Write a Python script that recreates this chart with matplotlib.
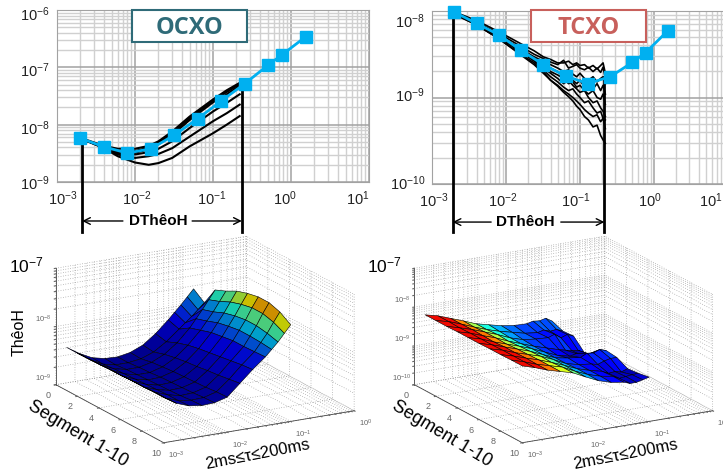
# OCXO / TCXO theo-H stability plots, with the segment surfaces below

import matplotlib
matplotlib.use('Agg')
import matplotlib.pyplot as plt
import numpy as np
from matplotlib.patches import Rectangle
from matplotlib.transforms import ScaledTranslation

FIG_W = 723
FIG_H = 473

plt.rcParams['font.family'] = ['Liberation Sans', 'DejaVu Sans']
plt.rcParams['mathtext.fontset'] = 'custom'
plt.rcParams['mathtext.rm'] = 'Liberation Sans'
plt.rcParams['mathtext.default'] = 'regular'

# blue reference curve, same taus in both top plots
tauBlue = [0.002, 0.004, 0.008, 0.016, 0.032, 0.064, 0.128, 0.256, 0.512, 0.768, 1.536]
ocxoBlue = [5.8e-9, 4.1e-9, 3.2e-9, 3.8e-9, 6.6e-9, 1.28e-8, 2.6e-8, 5.2e-8, 1.1e-7, 1.66e-7, 3.4e-7]
tcxoBlue = [9.7e-9, 7.2e-9, 5.3e-9, 3.5e-9, 2.4e-9, 1.77e-9, 1.45e-9, 1.74e-9, 2.55e-9, 3.3e-9, 5.9e-9]

# black segment curves, log10 of the deviation
ocxoTau = [0.002, 0.004, 0.006, 0.01, 0.015, 0.02, 0.03, 0.05, 0.1, 0.15, 0.22]
ocxoCurves = [
    [-8.24, -8.41, -8.55, -8.66, -8.70, -8.67, -8.58, -8.38, -8.15, -8.00, -7.85],
    [-8.24, -8.40, -8.52, -8.58, -8.55, -8.51, -8.41, -8.21, -7.94, -7.80, -7.65],
    [-8.24, -8.39, -8.50, -8.52, -8.48, -8.42, -8.29, -8.06, -7.77, -7.62, -7.47],
    [-8.24, -8.39, -8.49, -8.49, -8.43, -8.34, -8.18, -7.92, -7.61, -7.47, -7.32],
    [-8.24, -8.39, -8.46, -8.46, -8.40, -8.31, -8.15, -7.89, -7.58, -7.43, -7.29],
    [-8.23, -8.37, -8.42, -8.42, -8.37, -8.29, -8.12, -7.86, -7.56, -7.40, -7.27],
]
tcxoTau = [0.002, 0.004, 0.008, 0.016, 0.024, 0.032, 0.04, 0.05, 0.06, 0.07,
           0.08, 0.09, 0.1, 0.115, 0.13, 0.15, 0.17, 0.19, 0.205, 0.22]
tcxoCurves = [
    [-8.01, -8.11, -8.24, -8.38, -8.46, -8.53, -8.56, -8.60, -8.60, -8.58, -8.62, -8.60, -8.63, -8.62, -8.66, -8.63, -8.67, -8.63, -8.60, -8.72],
    [-8.02, -8.13, -8.26, -8.41, -8.50, -8.55, -8.59, -8.62, -8.57, -8.66, -8.64, -8.62, -8.66, -8.68, -8.65, -8.70, -8.66, -8.71, -8.65, -8.78],
    [-8.02, -8.14, -8.28, -8.44, -8.53, -8.58, -8.62, -8.66, -8.70, -8.68, -8.73, -8.76, -8.72, -8.78, -8.80, -8.76, -8.82, -8.78, -8.76, -8.84],
    [-8.02, -8.14, -8.28, -8.46, -8.55, -8.60, -8.66, -8.70, -8.76, -8.74, -8.80, -8.84, -8.80, -8.88, -8.84, -8.90, -8.84, -8.92, -8.86, -8.96],
    [-8.03, -8.15, -8.30, -8.45, -8.56, -8.62, -8.70, -8.74, -8.78, -8.84, -8.82, -8.88, -8.86, -8.92, -8.96, -8.92, -9.00, -9.02, -8.96, -9.08],
    [-8.03, -8.15, -8.29, -8.48, -8.57, -8.66, -8.72, -8.78, -8.84, -8.80, -8.86, -8.90, -8.94, -8.92, -9.00, -9.06, -9.04, -9.12, -9.16, -9.22],
    [-8.03, -8.16, -8.31, -8.47, -8.58, -8.68, -8.76, -8.82, -8.88, -8.92, -8.90, -8.96, -9.00, -9.06, -9.04, -9.12, -9.18, -9.16, -9.24, -9.26],
    [-8.04, -8.16, -8.32, -8.50, -8.60, -8.70, -8.80, -8.86, -8.92, -8.96, -9.00, -9.04, -9.08, -9.14, -9.18, -9.22, -9.20, -9.28, -9.24, -9.36],
    [-8.02, -8.16, -8.32, -8.51, -8.62, -8.72, -8.80, -8.87, -8.94, -8.99, -9.04, -9.10, -9.14, -9.22, -9.26, -9.34, -9.32, -9.44, -9.49, -9.53],
]

# surfaces: one row per segment, one column per log10(tau), log10(theoH)
surfTau = [-3.0, -2.8, -2.6, -2.4, -2.2, -2.0, -1.8, -1.6, -1.4, -1.3, -1.2, -1.1, -1.0]
surfSeg = [1, 2, 3, 4, 5, 6, 7, 8, 9, 10]
ocxoSurf = [
    [-8.26, -8.40, -8.51, -8.56, -8.57, -8.53, -8.44, -8.28, -8.08, -7.97, -7.86, -7.74, -7.62],
    [-8.26, -8.41, -8.52, -8.57, -8.57, -8.54, -8.46, -8.32, -8.14, -8.05, -7.96, -7.86, -7.76],
    [-8.25, -8.40, -8.50, -8.55, -8.55, -8.50, -8.40, -8.24, -8.02, -7.88, -7.74, -7.59, -7.44],
    [-8.25, -8.39, -8.49, -8.54, -8.54, -8.48, -8.36, -8.18, -7.96, -7.82, -7.68, -7.52, -7.36],
    [-8.24, -8.39, -8.48, -8.53, -8.52, -8.46, -8.33, -8.14, -7.90, -7.75, -7.60, -7.43, -7.26],
    [-8.24, -8.38, -8.47, -8.52, -8.51, -8.45, -8.31, -8.11, -7.87, -7.71, -7.55, -7.37, -7.20],
    [-8.23, -8.38, -8.46, -8.51, -8.50, -8.44, -8.28, -8.08, -7.84, -7.68, -7.52, -7.33, -7.16],
    [-8.23, -8.37, -8.45, -8.50, -8.49, -8.43, -8.26, -8.05, -7.84, -7.68, -7.52, -7.33, -7.16],
    [-8.22, -8.37, -8.45, -8.48, -8.47, -8.41, -8.23, -8.02, -7.83, -7.69, -7.55, -7.38, -7.22],
    [-8.22, -8.36, -8.44, -8.47, -8.46, -8.40, -8.20, -8.00, -7.82, -7.71, -7.60, -7.47, -7.34],
]
tcxoSurf = [
    [-8.05, -8.13, -8.25, -8.37, -8.50, -8.58, -8.66, -8.71, -8.72, -8.68, -8.70, -8.66, -8.76],
    [-8.05, -8.13, -8.25, -8.38, -8.50, -8.60, -8.68, -8.76, -8.80, -8.76, -8.82, -8.80, -8.87],
    [-8.05, -8.14, -8.24, -8.36, -8.48, -8.62, -8.72, -8.76, -8.78, -8.72, -8.84, -8.78, -8.85],
    [-8.04, -8.13, -8.25, -8.36, -8.50, -8.62, -8.74, -8.84, -8.94, -8.98, -9.02, -9.04, -9.13],
    [-8.04, -8.13, -8.26, -8.37, -8.48, -8.60, -8.74, -8.88, -8.96, -8.92, -9.00, -8.98, -9.06],
    [-8.04, -8.13, -8.24, -8.35, -8.46, -8.60, -8.74, -8.80, -8.84, -8.76, -8.78, -8.72, -8.77],
    [-8.03, -8.12, -8.24, -8.34, -8.44, -8.58, -8.74, -8.82, -8.86, -8.90, -8.84, -8.80, -8.80],
    [-8.03, -8.12, -8.23, -8.33, -8.45, -8.58, -8.72, -8.82, -8.90, -8.98, -8.96, -9.00, -8.94],
    [-8.02, -8.12, -8.24, -8.33, -8.42, -8.58, -8.72, -8.82, -8.88, -8.96, -8.94, -8.92, -8.91],
    [-8.02, -8.12, -8.24, -8.33, -8.42, -8.58, -8.73, -8.83, -8.88, -8.94, -8.94, -8.90, -8.86],
]

xTickLabels = ['$10^{-3}$', '$10^{-2}$', '$10^{-1}$', '$10^{0}$', '$10^{1}$']
BLUE = '#00b0f0'
TEAL = '#2f6b78'
RED = '#c8605c'


def rect(left, top, right, bottom):
    return [left / FIG_W, 1 - bottom / FIG_H, (right - left) / FIG_W, (bottom - top) / FIG_H]


def pos(x, y):
    return x / FIG_W, 1 - y / FIG_H


def shift(label, fig, dx, dy):
    label.set_transform(label.get_transform() + ScaledTranslation(dx / 100, -dy / 100, fig.dpi_scale_trans))


def top_plot(fig, box, ylim, yticks, ylabels, ydy, xdx, tauCurve, curves, blue, lw, marks):
    ax = fig.add_axes(rect(*box))
    ax.set_xscale('log')
    ax.set_yscale('log')
    ax.set_xlim(1e-3, 1e1)
    ax.set_ylim(*ylim)
    ax.grid(True, which='minor', color='#d0d0d0', lw=1.0)
    ax.grid(True, which='major', color='#a2a2a2', lw=1.1)
    ax.set_axisbelow(True)
    ax.xaxis.set_minor_locator(matplotlib.ticker.LogLocator(10, subs=np.arange(2, 10), numticks=20))
    ax.yaxis.set_minor_locator(matplotlib.ticker.LogLocator(10, subs=np.arange(2, 10), numticks=20))
    ax.xaxis.set_minor_formatter(matplotlib.ticker.NullFormatter())
    ax.yaxis.set_minor_formatter(matplotlib.ticker.NullFormatter())
    ax.tick_params(which='both', length=0, labelsize=10.5, colors='#222222', pad=5)
    ax.set_xticks([1e-3, 1e-2, 1e-1, 1e0, 1e1], xTickLabels)
    ax.set_yticks(yticks, ylabels)
    for sp in ax.spines.values():
        sp.set_color('#a2a2a2')
    for c in curves:
        ax.plot(tauCurve, 10.0 ** np.array(c), color='black', lw=lw, zorder=3)
    ax.plot(tauBlue, blue, color=BLUE, lw=2, marker='s', ms=8, zorder=5, clip_on=False)
    low, taus, arrowTau, arrowY = marks
    ax.plot([taus[0], taus[0]], [blue[0], low], color='black', lw=2, clip_on=False, zorder=4)
    ax.plot([taus[1], taus[1]], [blue[7], low], color='black', lw=2, clip_on=False, zorder=4)
    ax.annotate('', xy=(taus[0], arrowY), xytext=(arrowTau[0], arrowY), annotation_clip=False,
                arrowprops=dict(arrowstyle='->', color='black', lw=1, shrinkA=0, shrinkB=0, mutation_scale=12))
    ax.annotate('', xy=(taus[1], arrowY), xytext=(arrowTau[1], arrowY), annotation_clip=False,
                arrowprops=dict(arrowstyle='->', color='black', lw=1, shrinkA=0, shrinkB=0, mutation_scale=12))
    for label, dx in zip(ax.get_xticklabels(), xdx):
        shift(label, fig, dx, 0)
    for label, dy in zip(ax.get_yticklabels(), ydy):
        shift(label, fig, 0, dy)
    return ax


def surface(fig, center, zlim, zlabels, zgrid, vmin, vmax, top, dark):
    # orthographic box, sized so that it lands on the reference's box
    side = 324
    left = center[0] - 0.5135 * side
    upper = center[1] - (1 - 0.5135) * side
    ax = fig.add_axes(rect(left, upper, left + side, upper + side), projection='3d', proj_type='ortho')
    ax.set_facecolor('none')
    ax.view_init(elev=17.5, azim=-119.2)
    ax.set_box_aspect((218, 221, 122), zoom=1.0)
    X, Y = np.meshgrid(surfTau, surfSeg)
    Z = np.array(zgrid)
    colors = plt.cm.jet(plt.Normalize(vmin, vmax, clip=True)(10.0 ** Z) * top)
    colors[..., :3] *= dark
    ax.plot_surface(X, Y, Z, facecolors=colors, shade=False, rstride=1, cstride=1,
                    edgecolor='black', linewidth=0.4, antialiased=True)
    ax.set_xlim(-3, 0)
    ax.set_ylim(10, 0)
    ax.set_zlim(*zlim)
    subs = np.log10(np.arange(1, 10))
    xt = [d + s for d in [-3, -2, -1] for s in subs] + [0]
    xl = ['' for t in xt]
    xl[0], xl[9], xl[18], xl[27] = '$10^{-3}$', '$10^{-2}$', '$10^{-1}$', '$10^{0}$'
    ax.set_xticks(xt, xl)
    ax.set_yticks([0, 2, 4, 6, 8, 10], ['0', '2', '4', '6', '8', '10'])
    zt = [d + s for d in range(zlim[0], zlim[1]) for s in subs] + [zlim[1]]
    zl = ['' for t in zt]
    for i, text in enumerate(zlabels):
        zl[i * 9] = text
    ax.set_zticks(zt, zl)
    ax.tick_params(axis='x', labelsize=5.5, colors='#666666', pad=-3)
    ax.tick_params(axis='y', labelsize=6.5, colors='#666666', pad=-3)
    ax.tick_params(axis='z', labelsize=5.5, colors='#666666', pad=-3)
    for label in ax.get_xticklabels():
        label.set_ha('left')
    for label in ax.get_zticklabels():
        label.set_va('bottom')
    for axis in [ax.xaxis, ax.yaxis, ax.zaxis]:
        axis.set_pane_color((1, 1, 1, 0))
        axis.pane.set_edgecolor('#aaaaaa')
        axis.line.set_color('#444444')
        axis.line.set_linewidth(0.6)
        axis._axinfo['grid'].update(color='#8a8a8a', linewidth=0.5, linestyle=(0, (1, 2.5)))
        axis._axinfo['tick'].update(inward_factor=0.1, outward_factor=0.0)
    return ax


fig = plt.figure(figsize=(FIG_W / 100, FIG_H / 100), dpi=100)

axO = top_plot(fig, (57, 10, 369, 182), (1e-9, 1e-6), [1e-9, 1e-8, 1e-7, 1e-6],
               ['$10^{-9}$', '$10^{-8}$', '$10^{-7}$', '$10^{-6}$'], [0, 3, 2, 3],
               [6, 2, -1, -6, -11], ocxoTau, ocxoCurves, ocxoBlue, 1.5,
               (10 ** -9.87, (0.0021, 0.234), (0.0070, 0.054), 10 ** -9.68))
axT = top_plot(fig, (432, 11, 728, 184), (1e-10, 1e-8), [1e-10, 1e-9, 1e-8],
               ['$10^{-10}$', '$10^{-9}$', '$10^{-8}$'], [-2, -3, 9],
               [2, -3, -4, -4, -17], tcxoTau, tcxoCurves, tcxoBlue, 1.2,
               (10 ** -10.55, (0.0019, 0.214), (0.0063, 0.055), 10 ** -10.44))

for (l, t, r, b, col, text) in [(132, 10, 247, 42, TEAL, 'OCXO'), (531, 10, 646, 42, RED, 'TCXO')]:
    x0, y0 = pos(l, b)
    fig.add_artist(Rectangle((x0, y0), (r - l) / FIG_W, (b - t) / FIG_H, transform=fig.transFigure,
                             facecolor='white', edgecolor=col, lw=1.5, zorder=2))
    tx, ty = pos((l + r) / 2, (t + b) / 2 + 2)
    fig.text(tx, ty, text, color=col, fontsize=17, fontweight='bold', family='Open Sans',
             ha='center', va='center', zorder=3)

for (x, y) in [(158, 221), (525, 222)]:
    tx, ty = pos(x, y)
    fig.text(tx, ty, 'DThêoH', fontsize=11, fontweight='bold', ha='center', va='center', zorder=3)

surface(fig, (205, 339.5), (-9, -7), ['$10^{-9}$', '$10^{-8}$'], ocxoSurf, 0, 6.5e-8, 1.0, 0.8)
surface(fig, (563.5, 339.5), (-10, -7), ['$10^{-10}$', '$10^{-9}$', '$10^{-8}$'], tcxoSurf, 7e-10, 6.5e-9, 0.9, 1.0)

for (x, y) in [(26, 265), (384, 265)]:
    tx, ty = pos(x, y)
    fig.text(tx, ty, '$10^{-7}$', fontsize=12.5, ha='center', va='center', zorder=3)
tx, ty = pos(19, 332)
fig.text(tx, ty, 'ThêoH', fontsize=11.5, rotation=90, ha='center', va='center', zorder=3)
for (x, y) in [(78, 434), (442, 434)]:
    tx, ty = pos(x, y)
    fig.text(tx, ty, 'Segment 1-10', fontsize=13, rotation=-31, ha='center', va='center', zorder=3)
for (x, y) in [(257, 454), (625, 454)]:
    tx, ty = pos(x, y)
    fig.text(tx, ty, '2ms≤τ≤200ms', fontsize=12, rotation=11, ha='center', va='center', zorder=3)

fig.savefig('out.png', dpi=100)
